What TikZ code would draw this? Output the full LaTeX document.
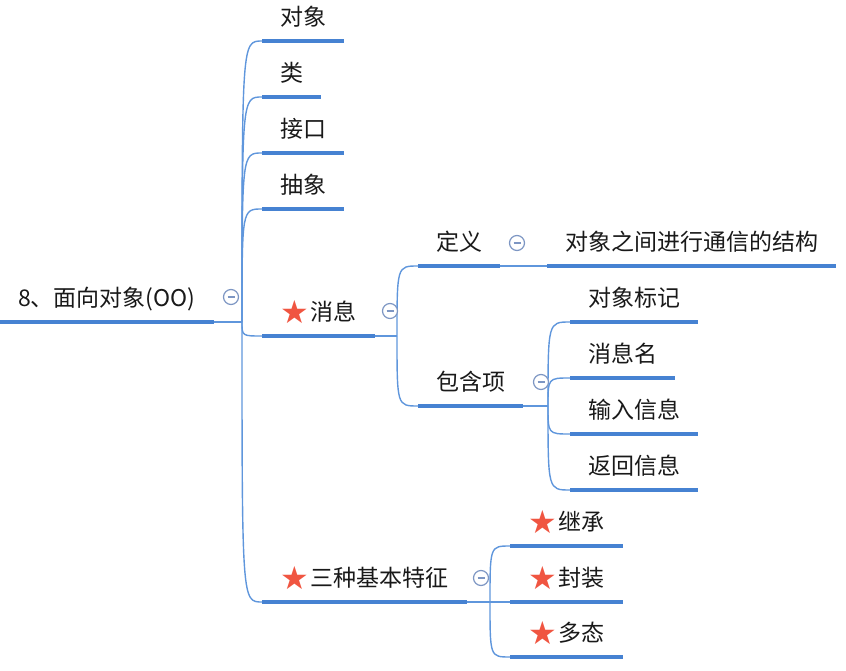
\documentclass[tikz,border=0pt]{standalone}
\usepackage{fontspec}
\setmainfont{Noto Sans CJK SC}
\newfontfamily\symfont{DejaVu Sans}
\usetikzlibrary{calc}
\definecolor{mapblue}{RGB}{70,130,210}
\definecolor{linkblue}{RGB}{95,150,220}
\definecolor{foldgray}{RGB}{125,150,195}
\definecolor{starred}{RGB}{240,85,65}
\definecolor{inkdark}{RGB}{25,25,25}
\newcommand{\markstar}{\raisebox{-3pt}{\symfont\fontsize{32}{32}\selectfont\color{starred}★}\hspace{2pt}}
\tikzset{topic/.style={anchor=south west, inner xsep=18pt, inner ysep=0pt,
             text height=20pt, text depth=15pt, font=\fontsize{23}{27}\selectfont, text=inkdark},
         uline/.style={draw=mapblue, line width=3.5pt},
         link/.style={draw=linkblue, line width=1.4pt},
         fold/.style={circle, draw=foldgray, line width=1.2pt, minimum size=15pt, inner sep=0pt,
             fill=white, path picture={\draw[foldgray, line width=1.2pt]
               ([xshift=-3.5pt]path picture bounding box.center) -- ([xshift=3.5pt]path picture bounding box.center);}}}

\begin{document}
\begin{tikzpicture}[x=1pt,y=-1pt]
          \useasboundingbox (0,0) rectangle (846,671);
          % topics
          \node[topic] (root)  at (0,322)   {8、面向对象(OO)};
          \node[topic] (obj)   at (262,41)  {对象};
          \node[topic] (cls)   at (262,97)  {类};
          \node[topic] (iface) at (262,153) {接口};
          \node[topic] (abs)   at (262,209) {抽象};
          \node[topic] (msg)   at (262,336) {\markstar 消息};
          \node[topic] (feat)  at (262,602) {\markstar 三种基本特征};
          \node[topic] (def)   at (418,266) {定义};
          \node[topic] (defv)  at (547,266) {对象之间进行通信的结构};
          \node[topic] (part)  at (418,406) {包含项};
          \node[topic] (p1)    at (570,322) {对象标记};
          \node[topic] (p2)    at (570,378) {消息名};
          \node[topic] (p3)    at (570,434) {输入信息};
          \node[topic] (p4)    at (570,490) {返回信息};
          \node[topic] (inh)   at (510,546) {\markstar 继承};
          \node[topic] (enc)   at (510,602) {\markstar 封装};
          \node[topic] (poly)  at (510,657) {\markstar 多态};
          \foreach \n in {root,obj,cls,iface,abs,msg,feat,def,defv,part,p1,p2,p3,p4,inh,enc,poly}
            \draw[uline] (\n.south west) -- (\n.south east);
          % joins
          \coordinate (rootjoin) at (242,322);
          \coordinate (msgjoin)  at (397,336);
          \coordinate (partjoin) at (548,406);
          \coordinate (featjoin) at (490,602);
          \draw[link] (root.south east) -- (rootjoin);
          \draw[link] (msg.south east) -- (msgjoin);
          \draw[link] (part.south east) -- (partjoin);
          \draw[link] (feat.south east) -- (featjoin);
          \draw[link] (def.south east) -- (defv.south west);
          \foreach \n in {obj,cls,iface,abs,msg,feat}
            \draw[link] (rootjoin) .. controls (rootjoin |- \n.south west) .. (\n.south west);
          \foreach \n in {def,part}
            \draw[link] (msgjoin) .. controls (msgjoin |- \n.south west) .. (\n.south west);
          \foreach \n in {p1,p2,p3,p4}
            \draw[link] (partjoin) .. controls (partjoin |- \n.south west) .. (\n.south west);
          \foreach \n in {inh,enc,poly}
            \draw[link] (featjoin) .. controls (featjoin |- \n.south west) .. (\n.south west);
          % fold markers
          \node[fold] (rootfold) at (231,297) {};
          \node[fold] (msgfold)  at (390,311) {};
          \node[fold] (deffold)  at (517,243) {};
          \node[fold] (partfold) at (541,382) {};
          \node[fold] (featfold) at (481,578) {};
        \end{tikzpicture}
\end{document}
